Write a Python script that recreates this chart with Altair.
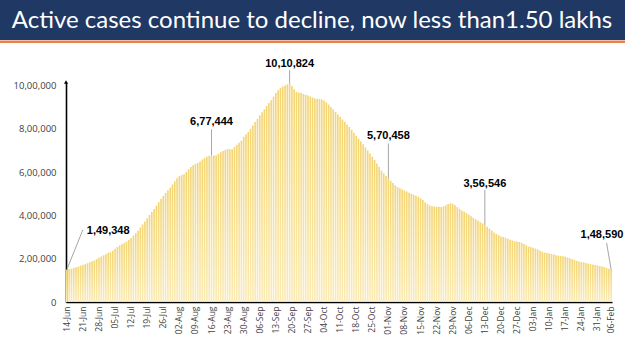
import altair as alt
import pandas as pd

title_text = "Active cases continue to decline, now less than1.50 lakhs"

days = list(pd.date_range("2020-06-14", "2021-02-06").strftime("%d-%b"))

active = [
    # Jun 14-30
    149348, 152000, 154000, 157000, 160500, 163500, 167500, 171000, 175000,
    179000, 184000, 188000, 192000, 198000, 204000, 210000, 216000,
    # Jul
    221000, 227000, 230000, 237000, 246000, 254000, 261000, 267000, 272000,
    279000, 286000, 295000, 307000, 318000, 330000, 344000, 358000, 372000,
    387000, 402000, 416000, 430000, 445000, 461000, 476000, 490000, 504000,
    516000, 528000, 543000, 557000,
    # Aug
    572000, 582000, 586000, 590000, 601000, 613000, 624000, 631000, 637000,
    642000, 649000, 658000, 665000, 671000, 675000, 677444, 676000, 677000,
    684000, 692000, 697000, 702000, 707000, 706000, 705000, 716000, 726000,
    735000, 745000, 763000, 775000,
    # Sep
    786000, 800000, 815000, 831000, 846000, 862000, 876000, 890000, 905000,
    919000, 932000, 948000, 965000, 978000, 988000, 995000, 1000000, 1005000,
    1010824, 998000, 982000, 970000, 967000, 965000, 961000, 957000, 954000,
    949000, 944000, 940000,
    # Oct
    938000, 937000, 935000, 930000, 922000, 912000, 901000, 890000, 878000,
    866000, 855000, 843000, 832000, 820000, 808000, 795000, 782000, 768000,
    755000, 742000, 728000, 714000, 700000, 686000, 671000, 656000, 640000,
    624000, 607000, 594000, 582000,
    # Nov
    570458, 560000, 549000, 539000, 531000, 525000, 520000, 515000, 510000,
    505000, 500000, 496000, 491000, 486000, 479000, 471000, 461000, 452000,
    446000, 442000, 441000, 440000, 440000, 439000, 442000, 447000, 453000,
    456000, 454000, 447000,
    # Dec
    438000, 430000, 423000, 417000, 410000, 403000, 396000, 389000, 382000,
    375000, 369000, 363000, 356546, 348000, 339000, 330000, 321000, 314000,
    308000, 303000, 300000, 297000, 292000, 288000, 284000, 281000, 279000,
    277000, 274000, 268000, 262000,
    # Jan
    257000, 254000, 250000, 247000, 243000, 237000, 232000, 228000, 226000,
    224000, 222000, 220000, 216000, 214000, 213000, 211000, 209000, 205000,
    201000, 198000, 194000, 190000, 187000, 185000, 183000, 180000, 177000,
    175000, 173000, 171000, 169000,
    # Feb 1-6
    166000, 164000, 161000, 157000, 153000, 148590,
]
assert len(active) == len(days) == 238

tick_days = days[::7] + [days[-1]]
y_ticks = [0, 200000, 400000, 600000, 800000, 1000000]
y_tick_labels = ["0", "2,00,000", "4,00,000", "6,00,000", "8,00,000", "10,00,000"]

ann_idx = [0, 63, 97, 140, 182, 237]
ann_text = ["1,49,348", "6,77,444", "10,10,824", "5,70,458", "3,56,546", "1,48,590"]

# layout (pixels / day offsets) for annotation labels and leaders
ann_text_idx = [18, 63, 97, 140, 182, 233]
ann_text_up = [39, 33, 19, 42, 41, 35]
ann_line_idx = [7, 63, 97, 140, 182, 235]
ann_line_up = [40, 26, 13, 35, 35, 27]

W, H = 546, 220
Y_MAX = 1016000
K = Y_MAX / H  # value per pixel
PAD = {"left": 66, "top": 82, "right": 13, "bottom": 49}

df = pd.DataFrame({"day": days, "active": active})

ann = pd.DataFrame({
    "day": [days[i] for i in ann_idx],
    "value": [active[i] for i in ann_idx],
    "label": ann_text,
    "tday": [days[i] for i in ann_text_idx],
    "tval": [active[i] + u * K for i, u in zip(ann_idx, ann_text_up)],
    "lday": [days[i] for i in ann_line_idx],
    "lval": [active[i] + u * K for i, u in zip(ann_idx, ann_line_up)],
})

label_expr = "[" + ",".join("'%s'" % s for s in y_tick_labels) + "][round(datum.value/200000)]"

xscale = alt.Scale(domain=days, paddingInner=0.28, paddingOuter=0)
yscale = alt.Scale(domain=[0, Y_MAX], nice=False)

grad = alt.Gradient(
    gradient="linear",
    stops=[alt.GradientStop(color="#F4D574", offset=0),
           alt.GradientStop(color="#FAEBB6", offset=1)],
    x1=0, x2=0, y1=0, y2=1,
)

bars = alt.Chart(df).mark_bar(color=grad).encode(
    x=alt.X("day:N", sort=days, scale=xscale, title=None,
            axis=alt.Axis(values=tick_days, labelAngle=-90, ticks=False,
                          labelPadding=4, labelFont="Open Sans", labelFontSize=8.5,
                          labelColor="#404040", domainColor="black", domainWidth=1.6,
                          grid=False, labelOverlap=False)),
    y=alt.Y("active:Q", scale=yscale, title=None,
            axis=alt.Axis(values=y_ticks, labelExpr=label_expr, ticks=False,
                          labelPadding=10, labelFont="Open Sans", labelFontSize=9.5,
                          labelColor="#404040", domainColor="black", domainWidth=1.6,
                          grid=False)),
)

leaders = alt.Chart(ann).mark_rule(color="#A6A6A6", strokeWidth=1).encode(
    x=alt.X("day:N", sort=days, scale=xscale),
    x2="lday:N",
    y=alt.Y("value:Q", scale=yscale),
    y2="lval:Q",
)

labels = alt.Chart(ann).mark_text(
    font="Liberation Sans", fontWeight="bold", fontSize=11, color="black",
    baseline="middle", align="center",
).encode(
    x=alt.X("tday:N", sort=days, scale=xscale),
    y=alt.Y("tval:Q", scale=yscale),
    text="label:N",
)

one = alt.Data(values=[{"k": 1}])
L, R = -PAD["left"], W + PAD["right"]
banner = alt.Chart(one).mark_rect(color="#1F3864").encode(
    x=alt.value(L), x2=alt.value(R), y=alt.value(-PAD["top"]), y2=alt.value(-42)
)
stripe = alt.Chart(one).mark_rect(color="#E8814C").encode(
    x=alt.value(L), x2=alt.value(R), y=alt.value(-41.5), y2=alt.value(-39)
)
title = alt.Chart(one).mark_text(
    text=title_text, font="Lato", fontSize=24, color="white",
    align="center", baseline="alphabetic",
).encode(x=alt.value(312 - PAD["left"]), y=alt.value(28 - PAD["top"]))
arrow = alt.Chart(one).mark_point(
    shape="triangle-up", filled=True, size=16, color="black", opacity=1
).encode(x=alt.value(0), y=alt.value(0))

chart = alt.layer(bars, leaders, labels, banner, stripe, title, arrow).properties(
    width=W, height=H, padding=PAD, autosize="none", background="white"
).configure_view(stroke=None)

chart.save("out.html", embed_options={"renderer": "svg", "actions": False})
